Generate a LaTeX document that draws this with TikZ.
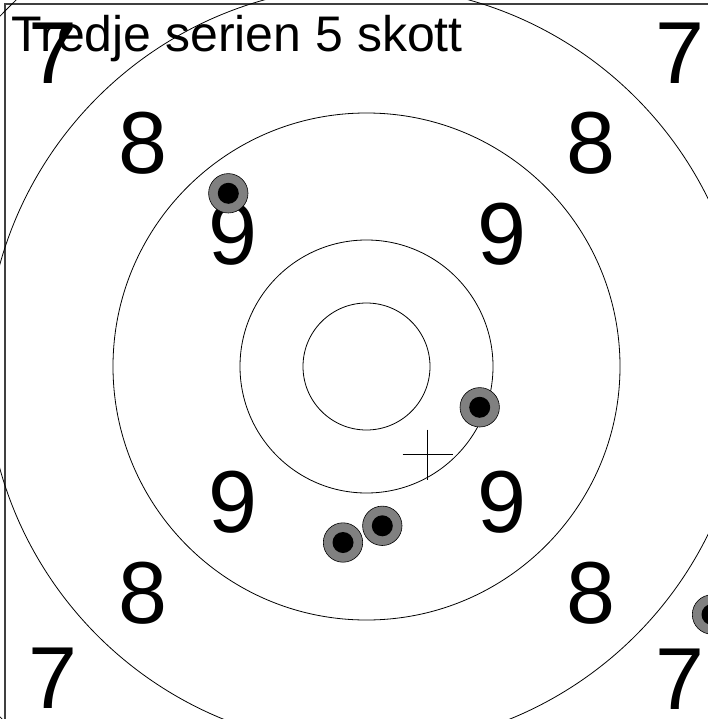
\documentclass[tikz,border=0pt]{standalone}
\usepackage{fontspec}
\setmainfont{Liberation Sans}
\begin{document}
\begin{tikzpicture}[x=1pt,y=-1pt,
  ring/.style={draw=black,line width=0.8pt},
  num/.style={anchor=base,inner sep=0pt,font=\fontsize{88}{88}\selectfont},
  shotouter/.style={fill=gray,draw=black,line width=0.6pt},
  shotinner/.style={fill=black},
  crossline/.style={draw=black,line width=1.3pt}]
\useasboundingbox (0,0) rectangle (708,719);
\clip (0,0) rectangle (708,719);
\coordinate (c) at (366.5,366.5);
% frame
\coordinate (fbl) at (5,719);
\coordinate (ftl) at (5,4);
\coordinate (ftr) at (708,4);
\draw[line width=1.2pt,draw=black!75] (fbl) -- (ftl) -- (ftr);
% rings
\draw[ring] (c) circle[radius=63.5pt];
\draw[ring] (c) circle[radius=126.5pt];
\draw[ring] (c) circle[radius=253.5pt];
\draw[ring] (c) circle[radius=380.5pt];
\draw[ring] (c) circle[radius=507pt];
% numbers
\node[num] (n7a) at (52.5,83.3) {7};
\node[num] (n7b) at (680,83.3) {7};
\node[num] (n8a) at (143,174) {8};
\node[num] (n8b) at (591,174) {8};
\node[num] (n9a) at (232.5,264.5) {9};
\node[num] (n9b) at (501.7,264.5) {9};
\node[num] (n9c) at (232.5,532.5) {9};
\node[num] (n9d) at (501.7,532.5) {9};
\node[num] (n8c) at (143,623.5) {8};
\node[num] (n8d) at (591,623.5) {8};
\node[num] (n7c) at (52.5,708) {7};
\node[num] (n7d) at (680,709) {7};
% title
\node[anchor=base west,inner sep=0pt,font=\fontsize{50}{50}\selectfont] (title) at (11.5,51.7) {Tredje serien 5 skott};
% crosshair
\coordinate (x) at (427.5,454.5);
\coordinate (xl) at (402.5,454.5);
\coordinate (xr) at (452.5,454.5);
\coordinate (xt) at (427.5,429.5);
\coordinate (xb) at (427.5,479.5);
\draw[crossline] (xl) -- (xr);
\draw[crossline] (xt) -- (xb);
% shots
\foreach \n/\px/\py in {s1/228.3/193.3, s2/479.7/407.3, s3/382.3/525.8, s4/343/542.5, s5/712/614.5}{
  \coordinate (\n) at (\px,\py);
  \draw[shotouter] (\n) circle[radius=19.7pt];
  \fill[shotinner] (\n) circle[radius=10.5pt];
}
\end{tikzpicture}
\end{document}
